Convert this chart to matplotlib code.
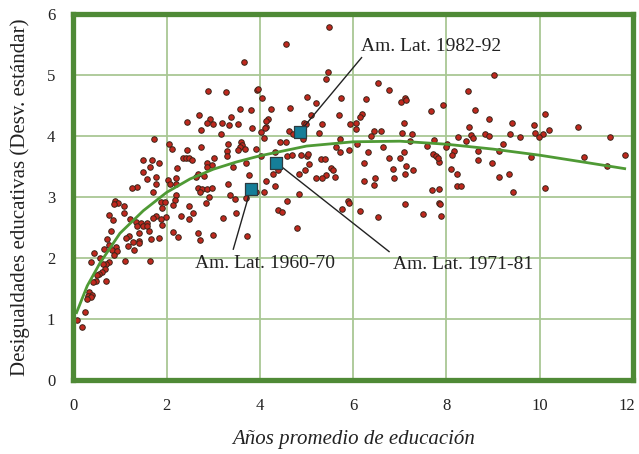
import matplotlib
matplotlib.use("Agg")
import matplotlib.pyplot as plt
import matplotlib.transforms as mtransforms
import numpy as np

# ---- data ----
pts_x = [1.74,2.05,2.11,2.44,2.36,2.41,2.48,2.54,1.49,1.69,1.83,1.64,1.50,2.22,1.77,1.59,2.04,2.20,2.07,2.20,
         2.67,2.64,1.77,1.36,1.25,1.71,2.67,2.21,2.19,0.90,0.96,0.87,1.88,1.97,2.14,1.09,1.91,2.49,1.09,2.56,
         0.76,1.77,1.70,1.99,1.89,2.30,2.49,0.86,1.21,1.34,1.45,1.57,1.37,1.49,1.59,1.91,
         0.81,1.41,1.62,2.14,2.25,2.67,1.19,1.14,0.72,1.67,1.84,1.40,1.41,1.29,0.76,0.91,0.84,1.18,0.65,1.31,
         0.93,0.88,0.44,0.57,0.38,0.76,0.70,1.11,1.65,0.64,0.69,0.62,0.56,0.50,0.49,0.43,0.70,0.34,0.40,0.31,
         0.39,0.29,0.25,0.09,0.19,
         3.66,2.88,3.27,3.93,3.96,4.04,5.01,5.21,3.57,3.81,4.24,4.64,2.70,2.94,2.87,2.99,3.39,3.18,3.34,3.53,
         4.17,4.13,5.09,4.94,4.98,2.74,3.83,4.13,4.10,4.03,4.63,4.70,4.93,5.26,3.16,4.09,4.43,4.56,3.32,3.59,
         3.61,3.57,2.74,3.29,3.53,3.69,3.92,4.32,4.59,4.68,4.89,5.00,5.04,3.30,3.01,4.02,2.44,5.49,4.56,
         2.87,2.97,2.87,3.43,3.70,4.39,5.05,4.96,4.83,3.77,4.29,5.20,2.80,4.13,3.31,4.32,2.75,2.86,2.98,2.71,
         3.91,4.09,3.36,3.46,3.70,2.91,4.84,4.59,2.84,4.39,4.48,3.48,3.22,4.80,3.00,3.72,2.71,
         5.45,5.42,6.54,6.77,5.74,6.28,7.12,7.02,7.14,7.67,5.69,6.19,6.14,5.34,5.94,6.06,6.06,7.08,6.45,6.59,
         7.05,7.26,6.39,5.71,7.21,7.73,6.09,5.64,5.90,6.65,7.58,5.71,6.32,7.09,7.71,7.77,5.32,5.39,6.77,7.01,
         7.84,6.24,7.14,7.29,6.85,7.12,5.52,5.56,5.42,5.34,5.61,6.24,6.46,6.87,6.44,7.68,7.84,5.89,5.91,5.76,
         6.14,6.54,7.11,7.49,7.84,
         9.01,8.47,7.92,8.62,8.91,9.41,10.11,8.48,9.87,10.20,10.83,8.53,8.57,8.82,8.91,9.36,9.58,9.89,10.07,9.99,
         11.51,8.24,8.41,9.21,8.01,7.99,8.17,8.12,8.67,9.12,7.81,9.82,10.94,11.83,11.45,8.67,8.98,8.09,8.23,9.13,
         9.33,8.23,8.31,10.11,9.43,7.86,7.89]
pts_y = [3.95,3.87,3.79,3.78,3.64,3.64,3.64,3.61,3.61,3.61,3.56,3.50,3.42,3.48,3.34,3.30,3.28,3.31,3.22,3.21,
         3.38,3.34,3.21,3.17,3.15,3.08,3.15,3.03,2.95,2.94,2.91,2.89,2.92,2.92,2.87,2.85,2.83,2.85,2.75,2.75,
         2.71,2.69,2.66,2.67,2.64,2.69,2.64,2.63,2.64,2.59,2.58,2.58,2.53,2.53,2.53,2.55,
         2.44,2.41,2.45,2.43,2.35,2.42,2.37,2.34,2.32,2.31,2.33,2.29,2.25,2.26,2.22,2.19,2.14,2.20,2.16,2.14,
         2.12,2.05,2.08,2.01,1.94,1.94,1.91,1.95,1.96,1.90,1.82,1.77,1.75,1.73,1.62,1.61,1.63,1.44,1.40,1.38,
         1.36,1.34,1.12,0.99,0.88,
         5.22,4.75,4.72,4.76,4.77,4.62,4.65,4.54,4.45,4.43,4.45,4.47,4.35,4.28,4.22,4.20,4.31,4.21,4.19,4.20,
         4.28,4.25,4.35,4.22,4.20,4.10,4.13,4.16,4.14,4.07,4.09,4.04,3.96,4.05,4.04,3.97,3.91,3.91,3.87,3.90,
         3.86,3.82,3.82,3.76,3.78,3.79,3.79,3.74,3.68,3.70,3.70,3.67,3.71,3.67,3.64,3.67,4.23,5.79,5.51,
         3.56,3.53,3.50,3.50,3.56,3.45,3.54,3.44,3.38,3.37,3.38,3.32,3.35,3.27,3.22,3.19,3.13,3.13,3.15,3.09,
         3.09,3.09,3.04,2.97,2.99,3.01,3.05,2.94,2.91,2.79,2.76,2.75,2.66,2.49,2.38,2.37,2.30,
         5.05,4.94,4.88,4.76,4.63,4.61,4.62,4.56,4.60,4.41,4.35,4.37,4.31,4.20,4.20,4.21,4.12,4.21,4.09,4.09,
         4.06,4.04,4.00,3.96,3.93,3.94,3.88,3.83,3.78,3.82,3.84,3.75,3.74,3.74,3.71,3.68,3.63,3.63,3.64,3.65,
         3.58,3.57,3.51,3.44,3.46,3.38,3.48,3.44,3.37,3.31,3.33,3.27,3.31,3.32,3.20,3.12,3.13,2.94,2.90,2.81,
         2.78,2.68,2.89,2.72,2.91,
         5.00,4.74,4.51,4.43,4.29,4.22,4.37,4.16,4.18,4.10,4.15,4.02,3.97,4.03,4.01,4.04,3.99,4.05,4.04,3.99,
         3.99,3.99,3.92,3.88,3.87,3.82,3.76,3.69,3.76,3.76,3.65,3.66,3.66,3.69,3.52,3.61,3.56,3.47,3.39,3.33,
         3.38,3.18,3.19,3.16,3.08,2.89,2.70]

curve_x = [0.07, 0.3, 0.57, 1.0, 1.5, 2.0, 2.5, 3.0, 3.5, 4.0, 5.0, 6.0, 7.0, 8.0, 9.0, 10.0, 11.0, 11.82]
curve_y = [1.11, 1.55, 1.92, 2.41, 2.78, 3.08, 3.30, 3.46, 3.58, 3.68, 3.84, 3.91, 3.92, 3.87, 3.79, 3.69, 3.57, 3.47]

region_labels = ["Am. Lat. 1960-70", "Am. Lat. 1971-81", "Am. Lat. 1982-92"]
region_x = [3.80, 4.35, 4.85]
region_y = [3.13, 3.57, 4.07]
label_x = [2.61, 6.86, 6.16]
label_y = [1.92, 1.90, 5.47]
leader_x = [3.43, 6.77, 6.18]
leader_y = [2.15, 2.11, 5.29]

x_ticks = [0, 2, 4, 6, 8, 10, 12]
y_ticks = [0, 1, 2, 3, 4, 5, 6]

# ---- style ----
SERIF = ["Liberation Serif", "DejaVu Serif"]
FRAME = "#4f8a36"
GRID = "#a9c794"
LINE = "#4f9a35"

fig = plt.figure(figsize=(6.39, 4.54), dpi=100)
ax = fig.add_axes([0.1147, 0.1623, 0.8760, 0.8062])

ax.set_xlim(0, 12)
ax.set_ylim(0, 6)
ax.set_xticks(x_ticks)
ax.set_yticks(y_ticks)
ax.grid(True, color=GRID, linewidth=1.3, zorder=0)
ax.set_axisbelow(True)
ax.tick_params(length=0, pad=13, labelsize=12)
for lab in ax.get_xticklabels() + ax.get_yticklabels():
    lab.set_family(SERIF)
    lab.set_color("#222222")

fig.canvas.draw()
last = ax.get_xticklabels()[-1]
last.set_transform(last.get_transform() +
                   mtransforms.ScaledTranslation(-6 / 100, 0, fig.dpi_scale_trans))

for sp in ax.spines.values():
    sp.set_color(FRAME)
    sp.set_linewidth(3.8)
    sp.set_zorder(6)

ax.scatter(pts_x, pts_y, s=16, facecolor="#c0281e", edgecolor="#3a2418",
           linewidth=0.7, zorder=3)
ax.plot(curve_x, curve_y, color=LINE, linewidth=2.0, zorder=4)

for lx, ly, tx, ty, rx, ry, txt in zip(leader_x, leader_y, label_x, label_y,
                                       region_x, region_y, region_labels):
    ax.plot([rx, lx], [ry, ly], color="#222222", linewidth=1.0, zorder=4)
    ax.text(tx, ty, txt, family=SERIF, fontsize=14, color="#222222",
            ha="left", va="center", zorder=5)

ax.scatter(region_x, region_y, marker="s", s=75, facecolor="#157e98",
           edgecolor="#2c3a40", linewidth=0.9, zorder=5)

ax.set_xlabel("Años promedio de educación", family=SERIF, fontsize=15,
              style="italic", color="#222222", labelpad=11)
ax.set_ylabel("Desigualdades educativas (Desv. estándar)", family=SERIF,
              fontsize=15, color="#222222", labelpad=12)

fig.savefig("out.png", dpi=100)
